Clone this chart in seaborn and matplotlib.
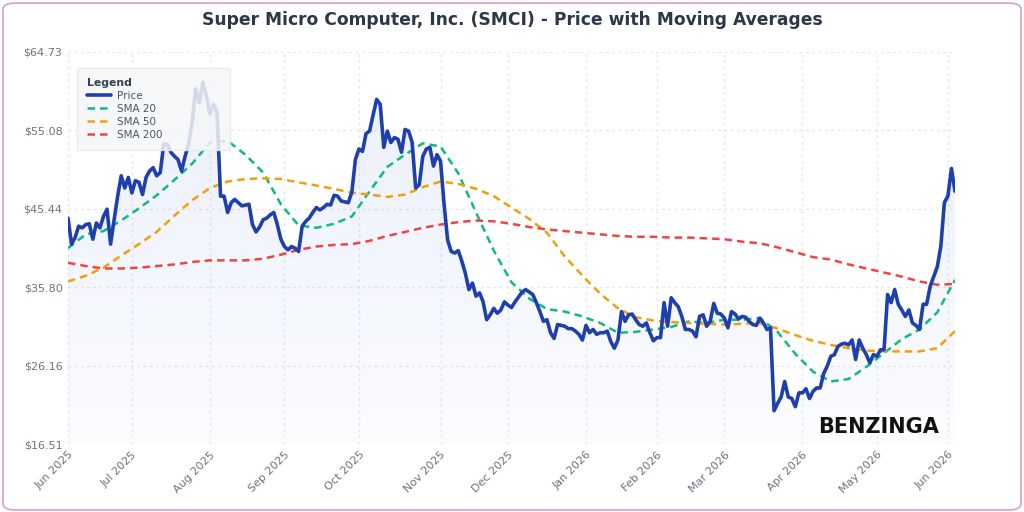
import numpy as np
import pandas as pd
import seaborn as sns
import matplotlib.pyplot as plt
from matplotlib.patches import FancyBboxPatch

# daily closing prices (trading-day index 0..250)
price = [
    44.3, 41.1, 41.9, 43.3, 43.1, 43.5, 43.6, 41.7, 43.7, 43.1,
    44.5, 45.4, 41.1, 44.1, 47.0, 49.5, 48.0, 49.3, 47.4, 48.9,
    48.7, 47.2, 49.3, 50.1, 50.5, 49.5, 49.9, 53.4, 53.4, 52.4,
    51.9, 51.5, 50.1, 51.9, 53.4, 56.1, 60.2, 58.5, 61.0, 59.3,
    57.1, 58.3, 57.3, 47.0, 47.0, 45.0, 46.2, 46.6, 46.2, 45.8,
    45.9, 46.0, 43.5, 42.6, 43.2, 44.1, 44.3, 44.7, 45.0, 43.5,
    41.7, 40.8, 40.4, 40.8, 40.6, 40.2, 43.3, 43.9, 44.3, 45.0,
    45.6, 45.3, 45.6, 46.0, 45.9, 47.1, 47.0, 46.4, 46.3, 46.2,
    47.5, 51.5, 52.8, 52.5, 54.7, 55.0, 57.0, 58.9, 58.3, 53.0,
    55.0, 53.6, 54.2, 54.0, 52.4, 55.2, 55.0, 53.6, 48.0, 48.4,
    51.9, 52.8, 53.0, 50.7, 52.1, 51.3, 46.0, 41.6, 40.2, 40.0,
    40.3, 39.0, 37.5, 35.5, 36.3, 34.7, 35.1, 34.0, 31.8, 32.4,
    33.2, 32.6, 33.0, 34.0, 33.6, 33.3, 34.0, 34.6, 35.2, 35.5,
    35.2, 34.9, 33.9, 32.8, 31.6, 31.8, 30.2, 29.5, 31.2, 31.1,
    31.0, 30.7, 30.7, 30.4, 30.0, 29.3, 31.1, 30.2, 30.6, 30.0,
    30.2, 30.2, 30.4, 29.1, 28.3, 29.3, 32.8, 31.6, 32.4, 32.5,
    31.8, 31.2, 31.0, 31.4, 30.2, 29.2, 29.6, 29.6, 33.9, 31.0,
    34.5, 33.9, 33.4, 32.2, 30.6, 30.6, 30.4, 29.7, 32.2, 32.4,
    31.0, 31.6, 33.8, 32.6, 32.5, 32.0, 30.8, 32.8, 32.5, 31.9,
    32.2, 32.1, 31.6, 31.2, 31.1, 32.0, 31.4, 30.6, 30.8, 20.6,
    21.5, 22.3, 24.2, 22.3, 22.1, 21.1, 22.8, 22.8, 23.3, 22.1,
    23.0, 23.4, 23.4, 25.2, 26.1, 27.3, 27.5, 28.5, 28.8, 28.9,
    28.7, 29.3, 26.9, 29.3, 28.3, 27.5, 26.5, 27.5, 27.3, 28.1,
    28.1, 34.9, 33.9, 35.5, 33.7, 33.0, 32.2, 33.0, 31.4, 31.1,
    30.6, 33.7, 33.7, 35.9, 37.1, 38.3, 40.8, 46.2, 47.0, 50.4,
    47.6,
]

# moving averages, read every 5 trading days
sma_step = 5
sma20 = [
    40.6, 42.3, 42.7, 44.0, 45.5, 47.1, 49.0, 51.0, 53.6, 53.8,
    52.1, 49.9, 46.0, 43.4, 43.1, 43.6, 44.5, 47.6, 50.6, 52.1,
    53.5, 53.1, 49.8, 45.0, 40.3, 36.4, 34.4, 33.1, 32.8, 32.2,
    31.4, 30.2, 30.3, 30.6, 30.9, 31.6, 31.4, 31.8, 31.8, 32.0,
    30.3, 27.6, 25.4, 24.2, 24.5, 26.0, 27.7, 29.4, 30.6, 32.7,
    36.7,
]
sma50 = [
    36.5, 37.2, 38.2, 39.7, 41.1, 42.6, 44.6, 46.5, 48.0, 48.8,
    49.1, 49.2, 49.1, 48.7, 48.3, 47.9, 47.4, 47.2, 46.9, 47.2,
    48.1, 48.8, 48.5, 47.9, 47.0, 45.6, 44.2, 42.5, 39.6, 37.2,
    35.0, 33.2, 32.1, 31.7, 31.5, 31.4, 31.3, 31.2, 31.3, 31.4,
    30.7, 29.9, 29.2, 28.7, 28.3, 28.0, 27.9, 27.9, 27.9, 28.3,
    30.4,
]
sma200 = [
    38.8, 38.4, 38.1, 38.1, 38.2, 38.4, 38.6, 38.9, 39.1, 39.1,
    39.1, 39.3, 39.8, 40.4, 40.8, 41.0, 41.1, 41.5, 42.1, 42.6,
    43.1, 43.5, 43.8, 44.0, 43.9, 43.6, 43.2, 42.9, 42.7, 42.5,
    42.3, 42.1, 42.0, 42.0, 41.9, 41.9, 41.8, 41.7, 41.4, 41.2,
    40.7, 40.1, 39.5, 39.2, 38.6, 38.1, 37.6, 37.1, 36.5, 36.1,
    36.2,
]

# first trading day of each month (index) and labels
month_pos = [0, 18, 40, 61, 82, 105, 124, 146, 166, 185, 207, 228, 248]
month_labels = ["Jun 2025", "Jul 2025", "Aug 2025", "Sep 2025", "Oct 2025",
                "Nov 2025", "Dec 2025", "Jan 2026", "Feb 2026", "Mar 2026",
                "Apr 2026", "May 2026", "Jun 2026"]
y_ticks = [16.51, 26.16, 35.80, 45.44, 55.08, 64.73]

df = pd.DataFrame({"day": np.arange(len(price)), "price": price})
sma_df = pd.DataFrame({"day": np.arange(len(sma20)) * sma_step,
                       "sma20": sma20, "sma50": sma50, "sma200": sma200})

sns.set_style("white")
plt.rcParams["font.family"] = ["DejaVu Sans"]

fig = plt.figure(figsize=(10.24, 5.12), dpi=100)
ax = fig.add_axes([68 / 1024, 68 / 512, 887 / 1024, 392 / 512])

blue = "#1e40af"
green = "#10b981"
orange = "#f59e0b"
red = "#ef4444"

# gradient fill under price
poly = ax.fill_between(df["day"], df["price"], y_ticks[0], color="none", lw=0)
grad = np.zeros((256, 1, 4))
grad[:, 0, 0:3] = (0.25, 0.42, 0.90)
grad[:, 0, 3] = np.linspace(0.02, 0.11, 256)
im = ax.imshow(grad, extent=[0, len(price) - 1, y_ticks[0], y_ticks[-1]],
               origin="lower", aspect="auto", zorder=1)
im.set_clip_path(poly.get_paths()[0], transform=ax.transData)

sns.lineplot(data=df, x="day", y="price", ax=ax, color=blue, lw=2.6,
             label="Price", zorder=5)
sns.lineplot(data=sma_df, x="day", y="sma20", ax=ax, color=green, lw=1.8,
             label="SMA 20", zorder=4).lines[-1].set_dashes([3, 2])
sns.lineplot(data=sma_df, x="day", y="sma50", ax=ax, color=orange, lw=1.8,
             label="SMA 50", zorder=4).lines[-1].set_dashes([3, 2])
sns.lineplot(data=sma_df, x="day", y="sma200", ax=ax, color=red, lw=1.8,
             label="SMA 200", zorder=4).lines[-1].set_dashes([3, 2])

ax.set_xlim(0, len(price) - 1)
ax.set_ylim(y_ticks[0], y_ticks[-1])
ax.set_xticks(month_pos)
ax.set_xticklabels(month_labels, rotation=45, ha="right", rotation_mode="anchor")
ax.set_yticks(y_ticks)
ax.set_yticklabels([f"${v:.2f}" for v in y_ticks])
ax.tick_params(axis="both", colors="#6b7280", labelsize=8, length=0, pad=4)
ax.set_xlabel("")
ax.set_ylabel("")
ax.grid(True, color="#e2e5ea", linestyle=(0, (2, 3)), lw=0.9)
for s in ax.spines.values():
    s.set_visible(False)

leg = ax.legend(loc="upper left", bbox_to_anchor=(0.01, 0.745, 0.1725, 0.215),
                mode="expand", title="Legend",
                fontsize=7.5, title_fontsize=7.8, frameon=True, fancybox=True,
                facecolor="#f5f6f7", edgecolor="#e5e7eb", framealpha=0.85,
                borderpad=0.95, labelspacing=0.3, handlelength=2.3,
                handletextpad=0.6, alignment="left", borderaxespad=0)
leg.get_title().set_fontweight("bold")
leg.get_title().set_color("#374151")
for t in leg.get_texts():
    t.set_color("#4b5563")
leg.set_zorder(10)

fig.text(0.5, 0.96, "Super Micro Computer, Inc. (SMCI) - Price with Moving Averages",
         ha="center", va="center", fontsize=12.3, fontweight="bold", color="#2d3748")
fig.text(0.799, 0.166, "BENZINGA", ha="left", va="center", fontsize=15,
         fontweight="bold", color="#111111", zorder=20)

border = FancyBboxPatch((0.003, 0.004), 0.994, 0.99, boxstyle="round,pad=0,rounding_size=0.012",
                        transform=fig.transFigure, fill=False, edgecolor="#dc9ccb", lw=1.2)
fig.patches.append(border)

fig.savefig("out.png", dpi=100)
